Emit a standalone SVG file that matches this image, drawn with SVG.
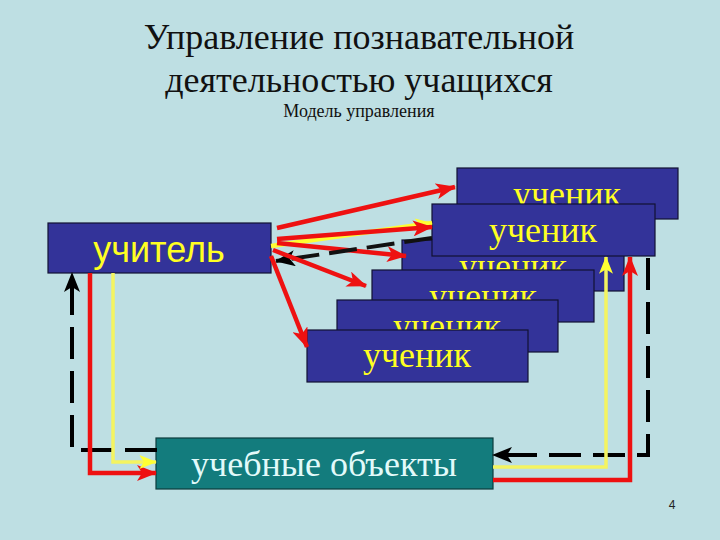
<svg xmlns="http://www.w3.org/2000/svg" width="720" height="540" viewBox="0 0 720 540">
<defs>
<style>
.bg{fill:#BEDFE3}
.title{font-family:"Liberation Serif","Times New Roman",serif;fill:#111;text-anchor:middle}
.box{fill:#333399;stroke:#111133;stroke-width:1.2}
.obj{fill:#137C7D;stroke:#0d3d3d;stroke-width:1.2}
.st{font-family:"Liberation Serif","Times New Roman",serif;font-size:36px;fill:#FFFF22;text-anchor:middle}
.tch{font-family:"Liberation Sans",Arial,sans-serif;font-size:36px;fill:#FFFF22;text-anchor:middle}
.ot{font-family:"Liberation Serif","Times New Roman",serif;font-size:36px;fill:#E2FAFA;text-anchor:middle}
.red{fill:none;stroke:#EE1111;stroke-width:4.5}
.yel{fill:none;stroke:#F4F460;stroke-width:3.5}
.yelb{fill:none;stroke:#FFFF33;stroke-width:4.5}
.blk{fill:none;stroke:#000;stroke-width:4;stroke-dasharray:32 12}
.blk2{fill:none;stroke:#111;stroke-width:4;stroke-dasharray:28 10}
</style>
<clipPath id="ca"><rect x="457" y="168" width="221" height="36"/></clipPath>
<clipPath id="cc"><rect x="402" y="256" width="222" height="14"/></clipPath>
<clipPath id="cd"><rect x="372" y="270" width="222" height="30"/></clipPath>
<clipPath id="ce"><rect x="337" y="300" width="221" height="30"/></clipPath>
<marker id="ar" viewBox="0 0 20 16" refX="19" refY="8" markerWidth="20" markerHeight="16" markerUnits="userSpaceOnUse" orient="auto"><path d="M0,0 L20,8 L0,16 L5,8 Z" fill="#EE1111"/></marker>
<marker id="ay" viewBox="0 0 20 16" refX="19" refY="8" markerWidth="18" markerHeight="14" markerUnits="userSpaceOnUse" orient="auto"><path d="M0,0 L20,8 L0,16 L5,8 Z" fill="#FFFF33"/></marker>
<marker id="ab" viewBox="0 0 20 16" refX="19" refY="8" markerWidth="20" markerHeight="16" markerUnits="userSpaceOnUse" orient="auto"><path d="M0,0 L20,8 L0,16 L5,8 Z" fill="#000"/></marker>
</defs>
<rect class="bg" x="0" y="0" width="720" height="540"/>
<g id="title">
<text class="title" x="359" y="49" font-size="36">Управление познавательной</text>
<text class="title" x="359" y="92" font-size="36">деятельностью учащихся</text>
<text class="title" x="359" y="117" font-size="18">Модель управления</text>
</g>
<g id="student-a"><rect class="box" x="457" y="168" width="221" height="51"/><text class="st" x="567" y="206" clip-path="url(#ca)">ученик</text></g>
<g id="student-c"><rect class="box" x="402" y="240" width="222" height="51"/><text class="st" x="513" y="278" clip-path="url(#cc)">ученик</text></g>
<g id="student-d"><rect class="box" x="372" y="270" width="222" height="52"/><text class="st" x="483" y="308" clip-path="url(#cd)">ученик</text></g>
<g id="student-e"><rect class="box" x="337" y="300" width="221" height="52"/><text class="st" x="447" y="338" clip-path="url(#ce)">ученик</text></g>
<g id="student-f"><rect class="box" x="307" y="330" width="221" height="52"/><text class="st" x="417" y="367">ученик</text></g>
<g id="student-b"><rect class="box" x="432" y="204" width="223" height="52"/><text class="st" x="543" y="242">ученик</text></g>
<g id="teacher"><rect class="box" x="48" y="223" width="223" height="50"/><text class="tch" x="159" y="262">учитель</text></g>
<g id="objects"><rect class="obj" x="156" y="438" width="337" height="51"/><text class="ot" x="324" y="476">учебные объекты</text></g>
<g id="connectors">
<path class="red" d="M277,228 L455,187" marker-end="url(#ar)"/>
<path class="yelb" d="M271,246 L432,223" marker-end="url(#ay)"/>
<path class="red" d="M277,239 L432,227" marker-end="url(#ar)"/>
<path class="red" d="M277,243 L406,256" marker-end="url(#ar)"/>
<path class="blk2" d="M432,238 L276,261" marker-end="url(#ab)"/>
<path class="red" d="M273,250 L366,286" marker-end="url(#ar)"/>
<path class="red" d="M271,256 L307,347" marker-end="url(#ar)"/>
<path class="blk" d="M157,450 H72 V273" marker-end="url(#ab)"/>
<path class="red" d="M90,273 V473 H156" marker-end="url(#ar)"/>
<path class="yel" d="M113,273 V462 H156" marker-end="url(#ay)"/>
<path class="blk" d="M648,258 V455 H493" marker-end="url(#ab)"/>
<path class="yel" d="M493,467 H606 V257" marker-end="url(#ay)"/>
<path class="red" d="M493,480 H630 V257" marker-end="url(#ar)"/>
</g>
<text x="672" y="509" font-family="Liberation Sans, Arial, sans-serif" font-size="12" fill="#222" text-anchor="middle">4</text>
</svg>
